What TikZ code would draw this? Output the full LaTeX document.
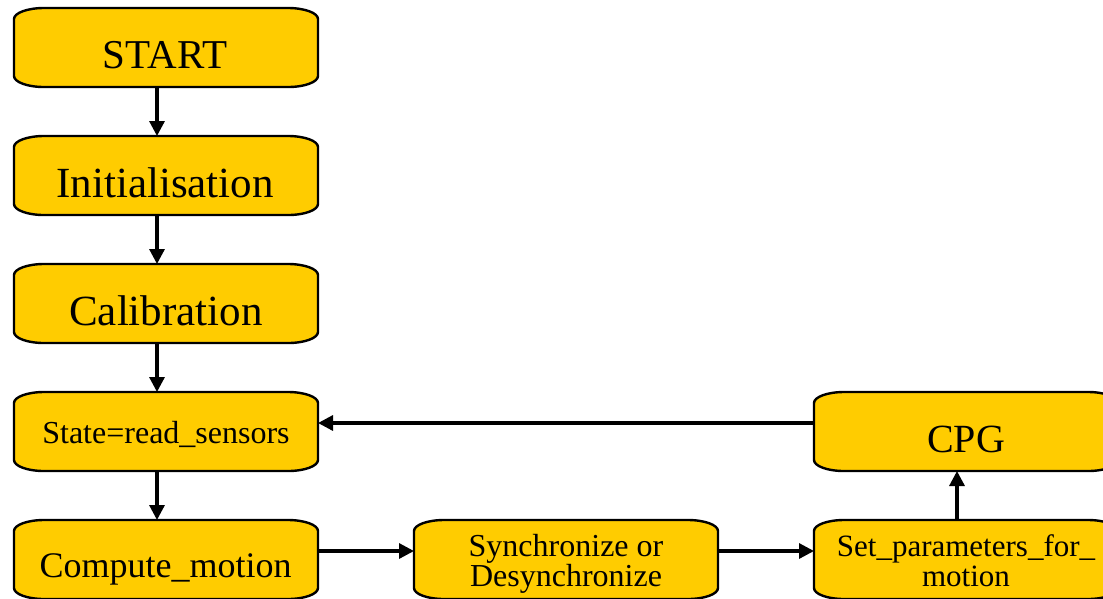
\documentclass[tikz,border=0pt]{standalone}
\usepackage{fontspec}
\setmainfont{Liberation Serif}
\usetikzlibrary{arrows.meta}
\definecolor{boxfill}{RGB}{255,204,0}
\tikzset{
  bx/.style={minimum width=304pt,minimum height=79pt,inner sep=0pt,outer sep=0pt,draw=none},
  bshape/.style={draw=black,line width=2.4pt,fill=boxfill},
  arr/.style={line width=3.2pt,-{Triangle[length=15pt,width=15pt]}},
  txt/.style={anchor=base,inner sep=0pt,text=black}
}
\newcommand\drawbx[1]{%
  \path[bshape] ([xshift=30pt]#1.north west) -- ([xshift=-30pt]#1.north east)
    arc[start angle=90,end angle=0,x radius=30pt,y radius=11pt]
    -- ([yshift=11pt]#1.south east)
    arc[start angle=0,end angle=-90,x radius=30pt,y radius=11pt]
    -- ([xshift=30pt]#1.south west)
    arc[start angle=270,end angle=180,x radius=30pt,y radius=11pt]
    -- ([yshift=-11pt]#1.north west)
    arc[start angle=180,end angle=90,x radius=30pt,y radius=11pt] -- cycle;}
\begin{document}
\begin{tikzpicture}[x=1pt,y=-1pt]
\useasboundingbox (0,0) rectangle (1103,598);
\node[bx] (start) at (166,47.5) {};
\node[bx] (init) at (166,175.5) {};
\node[bx] (calib) at (166,303.5) {};
\node[bx] (state) at (166,431.5) {};
\node[bx] (compute) at (166,559.5) {};
\node[bx] (sync) at (566,559.5) {};
\node[bx] (set) at (966,559.5) {};
\node[bx] (cpg) at (966,431.5) {};
\foreach \n in {start,init,calib,state,compute,sync,set,cpg} {\drawbx{\n}}
\node[txt,font=\fontsize{41}{41}\selectfont] (startT) at (165,68) {START};
\node[txt,font=\fontsize{43}{43}\selectfont] (initT) at (165,197) {Initialisation};
\node[txt,font=\fontsize{43}{43}\selectfont] (calibT) at (166,325) {Calibration};
\node[txt,font=\fontsize{32}{32}\selectfont] (stateT) at (166,443) {State=read\_sensors};
\node[txt,font=\fontsize{36}{36}\selectfont] (computeT) at (165.5,577) {Compute\_motion};
\node[txt,font=\fontsize{40}{40}\selectfont] (cpgT) at (966,452) {CPG};
\node[txt,font=\fontsize{32}{30}\selectfont] (syncT1) at (566,556) {Synchronize or};
\node[txt,font=\fontsize{32}{30}\selectfont] (syncT2) at (566,586) {Desynchronize};
\node[txt,font=\fontsize{31}{30}\selectfont] (setT1) at (966,556) {Set\_parameters\_for\_};
\node[txt,font=\fontsize{31}{30}\selectfont] (setT2) at (966,586) {motion};
\draw[arr] ([xshift=-9pt]start.south) -- ([xshift=-9pt]init.north);
\draw[arr] ([xshift=-9pt]init.south) -- ([xshift=-9pt]calib.north);
\draw[arr] ([xshift=-9pt]calib.south) -- ([xshift=-9pt]state.north);
\draw[arr] ([xshift=-9pt]state.south) -- ([xshift=-9pt]compute.north);
\draw[arr] ([yshift=8.5pt]compute.east) -- ([yshift=8.5pt]sync.west);
\draw[arr] ([yshift=8.5pt]sync.east) -- ([yshift=8.5pt]set.west);
\draw[arr] ([xshift=-9pt]set.north) -- ([xshift=-9pt]cpg.south);
\draw[arr] ([yshift=8.5pt]cpg.west) -- ([yshift=8.5pt]state.east);
\end{tikzpicture}
\end{document}
